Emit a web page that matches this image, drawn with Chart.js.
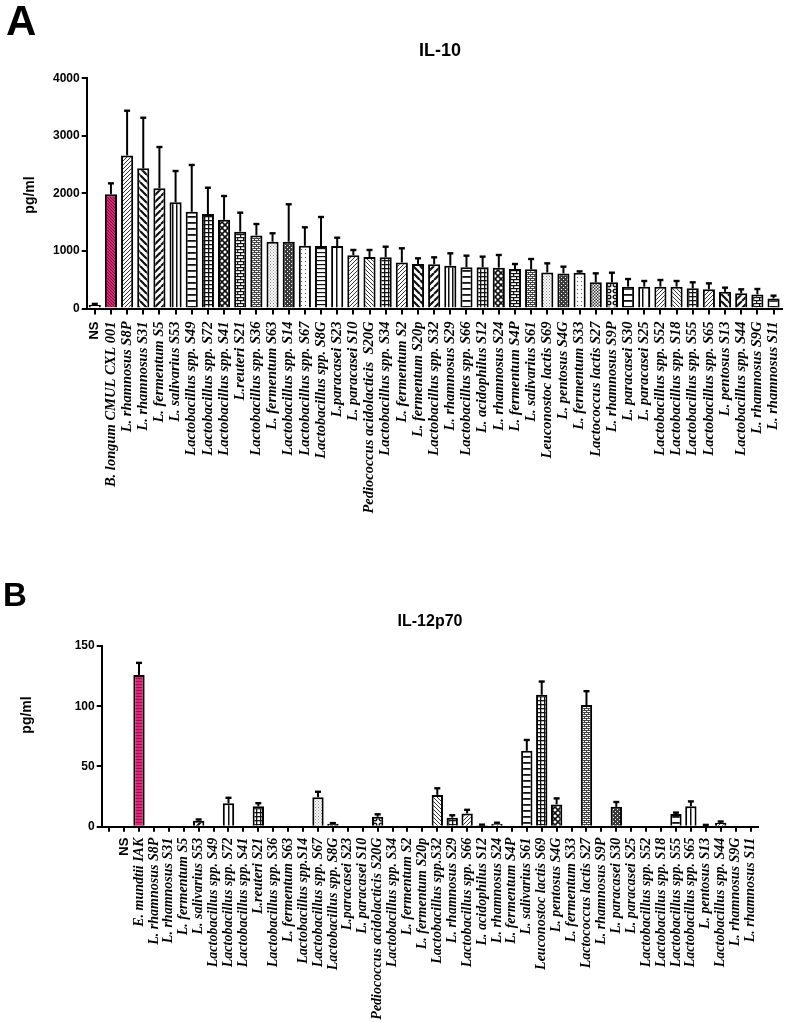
<!DOCTYPE html>
<html>
<head>
<meta charset="utf-8">
<title>IL-10 and IL-12p70</title>
<script src="https://cdn.jsdelivr.net/npm/chart.js@4.4.1/dist/chart.umd.min.js"></script>
<style>
    html, body { margin: 0; padding: 0; background: #fff; }
    #wrap { position: relative; width: 798px; height: 1022px; overflow: hidden; }
    canvas { position: absolute; left: 0; }
    #chartA { top: 0; }
    #chartB { top: 540px; }
</style>
</head>
<body>
<div id="wrap">
    <canvas id="chartA" width="798" height="540"></canvas>
    <canvas id="chartB" width="798" height="482"></canvas>
</div>
<script>
// ========================================
// DATA
// ========================================

// Panel A - IL-10 (pg/ml)
const strainsA = [
    'NS', 'B. longum CMUL CXL 001', 'L. rhamnosus S8P', 'L. rhamnosus S31', 'L. fermentum S5',
    'L. salivarius S53', 'Lactobacillus spp. S49', 'Lactobacillus spp. S72', 'Lactobacillus spp. S41',
    'L.reuteri S21', 'Lactobacillus spp. S36', 'L. fermentum S63', 'Lactobacillus spp. S14',
    'Lactobacillus spp. S67', 'Lactobacillus spp. S8G', 'L.paracasei S23', 'L. paracasei S10',
    'Pediococcus acidolacticis  S20G', 'Lactobacillus spp. S34', 'L. fermentum S2', 'L. fermentum S20p',
    'Lactobacillus spp. S32', 'L. rhamnosus S29', 'Lactobacillus spp. S66', 'L. acidophilus S12',
    'L. rhamnosus S24', 'L. fermentum S4P', 'L. salivarius S61', 'Leuconostoc lactis S69',
    'L. pentosus S4G', 'L. fermentum S33', 'Lactococcus lactis S27', 'L. rhamnosus S9P',
    'L. paracasei S30', 'L. paracasei S25', 'Lactobacillus spp. S52', 'Lactobacillus spp. S18',
    'Lactobacillus spp. S55', 'Lactobacillus spp. S65', 'L. pentosus S13', 'Lactobacillus spp. S44',
    'L. rhamnosus S9G', 'L. rhamnosus S11'
];
const il10Mean = [
    60, 1985, 2660, 2435, 2090, 1845, 1680, 1640, 1540, 1335, 1270, 1160, 1160, 1090, 1085,
    1085, 925, 895, 890, 800, 775, 770, 745, 715, 715, 710, 685, 680, 625, 610,
    620, 455, 455, 380, 380, 380, 380, 350, 335, 290, 265, 245, 175
];
const il10Err = [
    20, 190, 777, 880, 716, 544, 814, 459, 415, 330, 198, 147, 651, 321, 505,
    145, 92, 122, 184, 246, 97, 119, 214, 203, 186, 220, 88, 180, 160, 117,
    25, 156, 167, 132, 98, 115, 98, 105, 102, 72, 68, 94, 48
];
const ticksA = [0, 1000, 2000, 3000, 4000];

// Panel B - IL-12p70 (pg/ml)
const strainsB = [
    '', 'NS', 'E. mundtii IAK', 'L. rhamnosus S8P', 'L. rhamnosus S31', 'L. fermentum S5',
    'L. salivarius S53', 'Lactobacillus spp. S49', 'Lactobacillus spp. S72', 'Lactobacillus spp. S41',
    'L.reuteri S21', 'Lactobacillus spp. S36', 'L. fermentum S63', 'Lactobacillus spp.S14',
    'Lactobacillus spp. S67', 'Lactobacillus spp. S8G', 'L.paracasei S23', 'L. paracasei S10',
    'Pediococcus acidolacticis S20G', 'Lactobacillus spp. S34', 'L. fermentum S2', 'L. fermentum S20p',
    'Lactobacillus spp.S32', 'L. rhamnosus S29', 'Lactobacillus spp. S66', 'L. acidophilus S12',
    'L. rhamnosus S24', 'L. fermentum S4P', 'L. salivarius S61', 'Leuconostoc lactis S69',
    'L. pentosus S4G', 'L. fermentum S33', 'Lactococcus lactis S27', 'L. rhamnosus S9P',
    'L. paracasei S30', 'L. paracasei S25', 'Lactobacillus spp. S52', 'Lactobacillus spp. S18',
    'Lactobacillus spp. S55', 'Lactobacillus spp. S65', 'L. pentosus S13', 'Lactobacillus spp. S44',
    'L. rhamnosus S9G', 'L. rhamnosus S11'
];
const il12Mean = [
    0, 0, 126, 0, 0, 0, 5, 0, 19.5, 0, 17, 0, 0, 0, 24.5, 2.5, 0, 0, 8.3, 0.5, 0, 0,
    26.4, 7.5, 11, 1.2, 2.5, 0, 63, 109.5, 18.5, 0, 101, 0, 16.5, 0, 0, 0, 10.5, 17, 1, 3.3, 0, 0
];
const il12Err = [
    0, 0, 10, 0, 0, 0, 1, 0, 4.5, 0, 2.5, 0, 0, 0, 4.5, 0.5, 0, 0, 2, 0, 0, 0,
    5.5, 2, 3, 0.5, 0.8, 0, 9, 11, 5, 0, 11.5, 0, 4, 0, 0, 0, 1.2, 4, 0.5, 1, 0, 0
];
const ticksB = [0, 50, 100, 150];

// ========================================
// FILL PATTERNS (GraphPad style)
// ========================================

const SANS = "'Liberation Sans', Arial, sans-serif";
const SERIF = "'Liberation Serif', 'Times New Roman', serif";

function makePattern(kind) {
    if (kind === 'none') return '#ffffff';
    const sizes = {
        fineR: 4, fineL: 4, thickL: 7, thickR: 7, vlines: 4, vline1: 6, hlines: 6, hlines2: 4,
        grid: 4, diamond: 6, brick: 6, smallBrick: 4, stipple: 3, wavy: 4, dots: 4,
        checker: 3, circles: 6, pinkDiag: 3, pinkH: 3
    };
    const s = sizes[kind] || 4;
    const c = document.createElement('canvas');
    c.width = s;
    c.height = s;
    const g = c.getContext('2d');
    g.fillStyle = '#fff';
    g.fillRect(0, 0, s, s);
    g.strokeStyle = '#111';
    g.fillStyle = '#111';
    g.lineWidth = 1;

    const diag = (dir, w) => {
        g.lineWidth = w;
        g.beginPath();
        for (let k = -1; k <= 1; k++) {
            if (dir > 0) { g.moveTo(k * s, s); g.lineTo(k * s + s, 0); }
            else { g.moveTo(k * s, 0); g.lineTo(k * s + s, s); }
        }
        g.stroke();
    };

    switch (kind) {
        case 'fineR': g.strokeStyle = '#333'; diag(1, 1); break;
        case 'fineL': g.strokeStyle = '#333'; diag(-1, 1); break;
        case 'thickL': diag(-1, 2.2); break;
        case 'thickR': diag(1, 2.2); break;
        case 'vlines': g.fillRect(0, 0, 1.5, s); break;
        case 'vline1': g.fillRect(0, 0, 1.5, s); break;
        case 'hlines': g.fillRect(0, 0, s, 1.8); break;
        case 'hlines2': g.fillRect(0, 0, s, 1.2); break;
        case 'grid': g.fillRect(0, 0, s, 1.3); g.fillRect(0, 0, 1.3, s); break;
        case 'diamond': diag(1, 1.6); diag(-1, 1.6); break;
        case 'brick':
            g.fillRect(0, 0, s, 1.2); g.fillRect(0, 3, s, 1.2);
            g.fillRect(0, 0, 1.2, 3); g.fillRect(3, 3, 1.2, 3);
            break;
        case 'smallBrick':
            g.fillStyle = '#444';
            g.fillRect(0, 0, s, 1); g.fillRect(0, 2, s, 1);
            g.fillRect(0, 0, 1, 2); g.fillRect(2, 2, 1, 2);
            break;
        case 'stipple':
            g.fillStyle = '#888';
            g.fillRect(0, 0, 1, 1); g.fillRect(1.5, 1.5, 1, 1);
            break;
        case 'wavy':
            g.fillStyle = '#3a3a3a'; g.fillRect(0, 0, s, s);
            g.fillStyle = '#fff'; g.fillRect(1, 1, 1, 1); g.fillRect(3, 3, 1, 1);
            break;
        case 'dots': g.fillStyle = '#555'; g.fillRect(1, 1, 1, 1); break;
        case 'checker':
            g.fillStyle = '#333';
            g.fillRect(0, 0, 1.5, 1.5); g.fillRect(1.5, 1.5, 1.5, 1.5);
            break;
        case 'circles':
            g.lineWidth = 1.4;
            g.beginPath(); g.arc(3, 3, 1.8, 0, Math.PI * 2); g.stroke();
            break;
        case 'pinkDiag':
            g.fillStyle = '#d42a72'; g.fillRect(0, 0, s, s);
            g.strokeStyle = '#8a0f43'; diag(-1, 1);
            break;
        case 'pinkH':
            g.fillStyle = '#e2247a'; g.fillRect(0, 0, s, s);
            g.fillStyle = '#9e1252'; g.fillRect(0, 0, s, 1);
            break;
    }
    return g.createPattern(c, 'repeat');
}

const fillKindsA = [
    'none', 'pinkDiag', 'fineR', 'thickL', 'thickR', 'vlines', 'hlines', 'grid', 'diamond',
    'brick', 'smallBrick', 'stipple', 'wavy', 'dots', 'hlines2', 'vline1', 'fineR', 'fineL',
    'grid', 'fineR', 'thickL', 'thickR', 'vlines', 'hlines', 'grid', 'diamond', 'brick',
    'smallBrick', 'stipple', 'wavy', 'dots', 'checker', 'circles', 'hlines', 'vline1', 'fineR',
    'fineL', 'grid', 'fineR', 'thickL', 'thickR', 'brick', 'hlines'
];
const fillKindsB = [
    'none', 'none', 'pinkH', 'none', 'none', 'none', 'thickR', 'none', 'vline1', 'none', 'grid',
    'none', 'none', 'none', 'stipple', 'wavy', 'none', 'none', 'circles', 'none', 'none', 'none',
    'fineL', 'grid', 'fineR', 'none', 'dots', 'none', 'hlines', 'grid', 'diamond', 'none',
    'smallBrick', 'none', 'wavy', 'none', 'none', 'none', 'hlines', 'vline1', 'none', 'fineR',
    'none', 'none'
];

// ========================================
// PLUGINS
// ========================================

// Error bars (mean + SD, upper whisker only)
const errorBars = {
    id: 'errorBars',
    afterDatasetsDraw(chart, args, opts) {
        const { ctx } = chart;
        const yScale = chart.scales.y;
        const values = chart.data.datasets[0].data;
        const meta = chart.getDatasetMeta(0);
        ctx.save();
        ctx.strokeStyle = '#000';
        meta.data.forEach((bar, i) => {
            const err = opts.errors[i];
            if (!err) return;
            const yTop = yScale.getPixelForValue(values[i] + err);
            ctx.lineWidth = 2;
            ctx.beginPath();
            ctx.moveTo(bar.x, bar.y);
            ctx.lineTo(bar.x, yTop);
            ctx.stroke();
            ctx.lineWidth = 2.4;
            ctx.beginPath();
            ctx.moveTo(bar.x - opts.cap / 2, yTop);
            ctx.lineTo(bar.x + opts.cap / 2, yTop);
            ctx.stroke();
        });
        ctx.restore();
    }
};

// Panel letter, title and y axis label
const panelText = {
    id: 'panelText',
    afterDraw(chart, args, opts) {
        const { ctx } = chart;
        ctx.save();
        ctx.fillStyle = '#000';
        opts.items.forEach(t => {
            ctx.font = t.font;
            ctx.textAlign = t.align || 'left';
            ctx.textBaseline = t.baseline || 'alphabetic';
            ctx.save();
            ctx.translate(t.x, t.y);
            if (t.rotate) ctx.rotate(t.rotate);
            ctx.fillText(t.text, 0, 0);
            ctx.restore();
        });
        ctx.restore();
    }
};

// ========================================
// CHART BUILDER
// ========================================

function strainFont(size) {
    return (context) => {
        if (context.tick && context.tick.label === 'NS') {
            return { family: SANS, weight: 'bold', size: 13 };
        }
        return { family: SERIF, style: 'italic', weight: 'bold', size: size };
    };
}

function buildChart(canvas, cfg) {
    return new Chart(canvas.getContext('2d'), {
        type: 'bar',
        data: {
            labels: cfg.labels,
            datasets: [{
                data: cfg.values,
                backgroundColor: cfg.fills.map(makePattern),
                borderColor: '#000',
                borderWidth: 2,
                barPercentage: cfg.barPct,
                categoryPercentage: 1.0
            }]
        },
        options: {
            responsive: false,
            animation: false,
            devicePixelRatio: 1,
            layout: { padding: cfg.padding },
            plugins: {
                legend: { display: false },
                tooltip: { enabled: false },
                errorBars: { errors: cfg.errors, cap: 6 },
                panelText: { items: cfg.texts }
            },
            scales: {
                x: {
                    offset: true,
                    z: 1,
                    grid: {
                        offset: false, drawOnChartArea: false, drawTicks: true,
                        tickLength: cfg.tickLen, color: '#000', lineWidth: 2
                    },
                    border: { color: '#000', width: 2 },
                    ticks: {
                        autoSkip: false, minRotation: 90, maxRotation: 90,
                        padding: cfg.labelPad, color: '#000', font: strainFont(cfg.labelSize)
                    },
                    afterFit: (s) => { s.height = cfg.xHeight; }
                },
                y: {
                    min: cfg.yTicks[0],
                    max: cfg.yTicks[cfg.yTicks.length - 1],
                    z: 1,
                    afterBuildTicks: (s) => { s.ticks = cfg.yTicks.map(v => ({ value: v })); },
                    grid: { drawOnChartArea: false, tickLength: 5, color: '#000', lineWidth: 2 },
                    border: { color: '#000', width: 2 },
                    ticks: {
                        color: '#000', padding: 2,
                        font: { family: SANS, weight: 'bold', size: 12 },
                        callback: (value) => String(value)
                    },
                    afterFit: (s) => { s.width = cfg.yWidth; }
                }
            }
        },
        plugins: [errorBars, panelText]
    });
}

// ========================================
// INIT
// ========================================

buildChart(document.getElementById('chartA'), {
    labels: strainsA,
    values: il10Mean,
    errors: il10Err,
    fills: fillKindsA,
    yTicks: ticksA,
    barPct: 0.75,
    labelSize: 14.5,
    labelPad: 7,
    tickLen: 6,
    padding: { top: 78.3, right: 6, bottom: 0, left: 0 },
    xHeight: 540 - 308.5,
    yWidth: 86.7,
    texts: [
        { text: 'A', x: 6, y: 35, font: `bold 42px ${SANS}` },
        { text: 'IL-10', x: 440, y: 56, align: 'center', font: `bold 18px ${SANS}` },
        { text: 'pg/ml', x: 30, y: 195, align: 'center', baseline: 'middle',
          rotate: -Math.PI / 2, font: `bold 14px ${SANS}` }
    ]
});

buildChart(document.getElementById('chartB'), {
    labels: strainsB,
    values: il12Mean,
    errors: il12Err,
    fills: fillKindsB,
    yTicks: ticksB,
    barPct: 0.76,
    labelSize: 14,
    labelPad: 6,
    tickLen: 5,
    padding: { top: 106, right: 40, bottom: 0, left: 0 },
    xHeight: 482 - 286.7,
    yWidth: 101.7,
    texts: [
        { text: 'B', x: 3, y: 66, font: `bold 33px ${SANS}` },
        { text: 'IL-12p70', x: 430, y: 86, align: 'center', font: `bold 16px ${SANS}` },
        { text: 'pg/ml', x: 27, y: 175, align: 'center', baseline: 'middle',
          rotate: -Math.PI / 2, font: `bold 14px ${SANS}` }
    ]
});
</script>
</body>
</html>
